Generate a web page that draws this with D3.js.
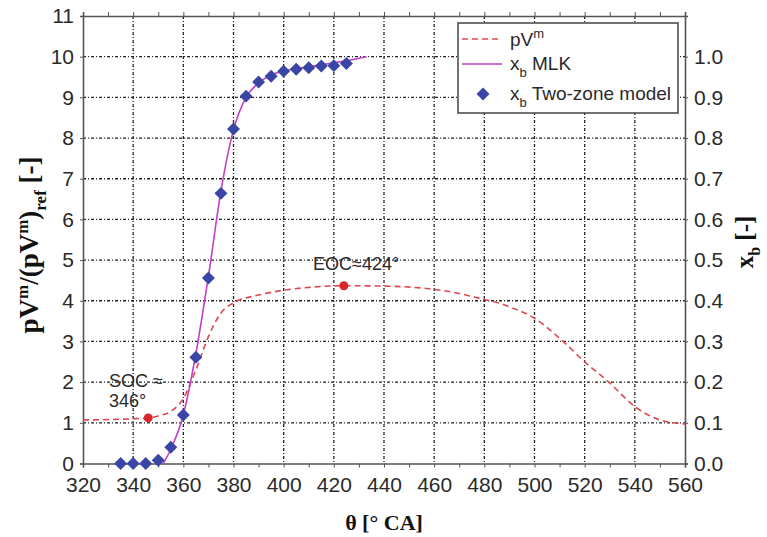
<!DOCTYPE html>
<html lang="en">
<head>
  <meta charset="UTF-8">
  <title>pV^m and mass fraction burned</title>
  <script src="https://cdn.jsdelivr.net/npm/d3@7"></script>
  <style>
    body { margin: 0; background: #fff; }
    text { font-family: "Liberation Sans", Arial, sans-serif; fill: #2a2a2a; }
    .title { font-family: "Liberation Serif", "Times New Roman", serif; font-weight: bold; fill: #111; }
  </style>
</head>
<body>
  <div id="chart"></div>
  <script>
    // crank angle ticks and the three series
    var xTicks = [320, 340, 360, 380, 400, 420, 440, 460, 480, 500, 520, 540, 560];
    var yLeftTicks = [0, 1, 2, 3, 4, 5, 6, 7, 8, 9, 10, 11];
    var yRightTicks = [0.0, 0.1, 0.2, 0.3, 0.4, 0.5, 0.6, 0.7, 0.8, 0.9, 1.0];

    // pV^m normalised (left axis)
    var pvTheta = [320, 330, 340, 346, 350, 355, 360, 365, 370, 375, 380, 390, 400, 410, 424, 440, 460, 470, 480, 485, 490, 500, 510, 520, 530, 540, 550, 560];
    var pvValue = [1.07, 1.08, 1.1, 1.12, 1.17, 1.28, 1.6, 2.3, 3.12, 3.7, 3.95, 4.14, 4.26, 4.33, 4.37, 4.36, 4.28, 4.18, 4.03, 3.96, 3.85, 3.57, 3.08, 2.5, 1.98, 1.4, 1.07, 0.97];

    // x_b MLK (right axis)
    var mlkTheta = [352, 355, 360, 365, 370, 375, 380, 385, 390, 395, 400, 410, 420, 425, 433];
    var mlkValue = [0.0, 0.035, 0.12, 0.27, 0.46, 0.67, 0.82, 0.9, 0.935, 0.955, 0.965, 0.975, 0.985, 0.99, 1.0];

    // x_b two-zone model (right axis)
    var tzTheta = [335, 340, 345, 350, 355, 360, 365, 370, 375, 380, 385, 390, 395, 400, 405, 410, 415, 420, 425];
    var tzValue = [0.0, 0.0, 0.0, 0.008, 0.04, 0.119, 0.261, 0.456, 0.664, 0.822, 0.903, 0.938, 0.952, 0.964, 0.969, 0.973, 0.977, 0.978, 0.983];

    // start / end of combustion markers
    var markTheta = [346, 424];
    var markValue = [1.12, 4.37];

    var W = 767, H = 537;
    var margin = { top: 16, right: 82, bottom: 73.5, left: 83 };
    var width = W - margin.left - margin.right,
        height = H - margin.top - margin.bottom;

    var svg = d3.select("#chart").append("svg")
      .attr("width", W).attr("height", H);
    var g = svg.append("g")
      .attr("transform", "translate(" + margin.left + "," + margin.top + ")");

    var x = d3.scaleLinear().domain([320, 560]).range([0, width]);
    var y = d3.scaleLinear().domain([0, 11]).range([height, 0]);
    var y2 = d3.scaleLinear().domain([0, 1.1]).range([height, 0]);

    // grid
    var grid = g.append("g").attr("stroke", "#222").attr("stroke-width", 1.3)
      .attr("stroke-dasharray", "3,2,1,2");
    grid.selectAll(".vx").data(xTicks.slice(1, -1)).enter().append("line")
      .attr("x1", d => x(d)).attr("x2", d => x(d)).attr("y1", 0).attr("y2", height);
    grid.selectAll(".hy").data(yLeftTicks.slice(1, -1)).enter().append("line")
      .attr("x1", 0).attr("x2", width).attr("y1", d => y(d)).attr("y2", d => y(d));

    // axes, small ticks outside the frame
    var axCol = "#555";
    var xb = g.append("g").attr("transform", "translate(0," + height + ")")
      .call(d3.axisBottom(x).tickValues(d3.range(320, 561, 10)).tickSize(4).tickFormat(d => d % 20 === 0 ? d : ""));
    xb.selectAll("text").attr("y", 14).attr("dy", "0.71em").style("font-size", "21px");
    var xt = g.append("g")
      .call(d3.axisTop(x).tickValues(d3.range(320, 561, 10)).tickSize(4).tickFormat(""));

    var yl = g.append("g")
      .call(d3.axisLeft(y).tickValues(yLeftTicks).tickSize(3).tickFormat(d3.format("d")));
    yl.selectAll("text").attr("x", -9).style("font-size", "21px");
    var yr = g.append("g").attr("transform", "translate(" + width + ",0)")
      .call(d3.axisRight(y2).tickValues(yRightTicks).tickSize(3).tickFormat(d3.format(".1f")));
    yr.selectAll("text").attr("x", 9).style("font-size", "21px");
    [xb, xt, yl, yr].forEach(function (a) {
      a.select(".domain").attr("stroke", axCol).attr("stroke-width", 1.6);
      a.selectAll(".tick line").attr("stroke", axCol);
      a.selectAll("text").style("fill", "#2a2a2a").style("font-family", "Liberation Sans, Arial, sans-serif");
    });

    // pV^m dashed curve
    var pvData = pvTheta.map((t, i) => [t, pvValue[i]]);
    g.append("path").datum(pvData)
      .attr("fill", "none").attr("stroke", "#e0474c").attr("stroke-width", 1.6)
      .attr("stroke-dasharray", "6,4")
      .attr("d", d3.line().curve(d3.curveMonotoneX).x(d => x(d[0])).y(d => y(d[1])));

    // MLK line
    var mlkData = mlkTheta.map((t, i) => [t, mlkValue[i]]);
    g.append("path").datum(mlkData)
      .attr("fill", "none").attr("stroke", "#c43fc8").attr("stroke-width", 1.6)
      .attr("d", d3.line().curve(d3.curveMonotoneX).x(d => x(d[0])).y(d => y2(d[1])));

    // two-zone diamonds
    var diamond = d3.symbol().type(d3.symbolSquare).size(84);
    g.selectAll(".tz").data(tzTheta.map((t, i) => [t, tzValue[i]])).enter().append("path")
      .attr("d", diamond)
      .attr("transform", d => "translate(" + x(d[0]) + "," + y2(d[1]) + ") rotate(45)")
      .attr("fill", "#3a46a6");

    // SOC / EOC markers
    g.selectAll(".mk").data(markTheta.map((t, i) => [t, markValue[i]])).enter().append("circle")
      .attr("cx", d => x(d[0])).attr("cy", d => y(d[1])).attr("r", 4.5).attr("fill", "#d8262b");

    g.append("text").attr("x", 26).attr("y", 371).style("font-size", "18px").text("SOC ≈");
    g.append("text").attr("x", 26).attr("y", 391).style("font-size", "18px").text("346°");
    g.append("text").attr("x", 230).attr("y", 254).style("font-size", "18px").text("EOC≈424°");

    // legend
    var lg = svg.append("g").attr("transform", "translate(458,23)");
    lg.append("rect").attr("width", 220).attr("height", 90)
      .attr("fill", "#fff").attr("stroke", "#444").attr("stroke-width", 1.5);
    lg.append("line").attr("x1", 4).attr("x2", 44).attr("y1", 16).attr("y2", 16)
      .attr("stroke", "#e0474c").attr("stroke-width", 1.5).attr("stroke-dasharray", "6,4");
    lg.append("line").attr("x1", 4).attr("x2", 44).attr("y1", 41).attr("y2", 41)
      .attr("stroke", "#c43fc8").attr("stroke-width", 1.5);
    lg.append("path").attr("d", diamond).attr("transform", "translate(25,71) rotate(45)").attr("fill", "#3a46a6");
    var t1 = lg.append("text").attr("x", 52).attr("y", 23).style("font-size", "19px");
    t1.append("tspan").text("pV");
    t1.append("tspan").attr("dy", -8).style("font-size", "13px").text("m");
    var t2 = lg.append("text").attr("x", 52).attr("y", 47).style("font-size", "19px");
    t2.append("tspan").text("x");
    t2.append("tspan").attr("dy", 7).style("font-size", "13px").text("b");
    t2.append("tspan").attr("dy", -7).text(" MLK");
    var t3 = lg.append("text").attr("x", 52).attr("y", 77).style("font-size", "19px");
    t3.append("tspan").text("x");
    t3.append("tspan").attr("dy", 7).style("font-size", "13px").text("b");
    t3.append("tspan").attr("dy", -7).text(" Two-zone model");

    // axis titles
    svg.append("text").attr("class", "title")
      .attr("x", margin.left + width / 2).attr("y", 530)
      .attr("text-anchor", "middle").style("font-size", "22px").text("θ [° CA]");

    var lt = svg.append("text").attr("class", "title")
      .attr("transform", "translate(38,245) rotate(-90)")
      .attr("text-anchor", "middle").style("font-size", "27px");
    lt.append("tspan").text("pV");
    lt.append("tspan").attr("dy", -10).style("font-size", "17px").text("m");
    lt.append("tspan").attr("dy", 10).text("/(pV");
    lt.append("tspan").attr("dy", -10).style("font-size", "17px").text("m");
    lt.append("tspan").attr("dy", 10).text(")");
    lt.append("tspan").attr("dy", 8).style("font-size", "17px").text("ref");
    lt.append("tspan").attr("dy", -8).text(" [-]");

    var rt = svg.append("text").attr("class", "title")
      .attr("transform", "translate(753,242) rotate(-90)")
      .attr("text-anchor", "middle").style("font-size", "25px");
    rt.append("tspan").text("x");
    rt.append("tspan").attr("dy", 7).style("font-size", "16px").text("b");
    rt.append("tspan").attr("dy", -7).text(" [-]");
  </script>
</body>
</html>
